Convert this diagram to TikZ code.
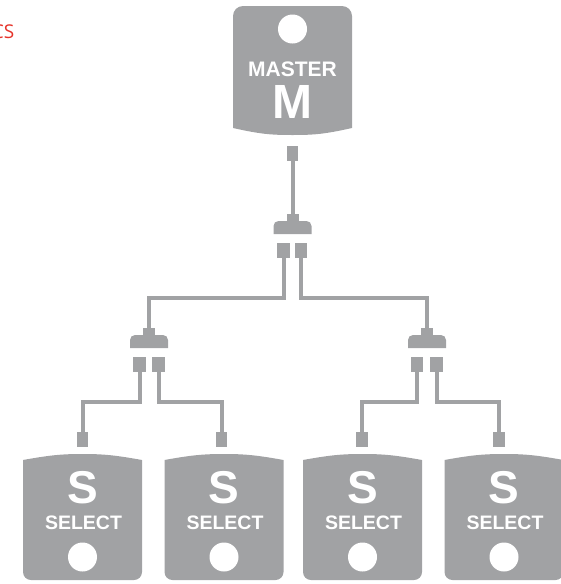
\documentclass[tikz,border=0pt]{standalone}
\usepackage{fontspec}
\setmainfont{Liberation Sans}
\newfontfamily\brandfont{Open Sans}
\definecolor{pedalgrey}{RGB}{161,162,164}
\definecolor{brandred}{RGB}{229,51,42}
\tikzset{
	cable/.style={draw=pedalgrey, line width=4pt},
	plug/.style={fill=pedalgrey, draw=none, inner sep=0pt, minimum width=11.5pt, minimum height=15pt},
	pedaltext/.style={text=white, font=\bfseries, anchor=base, inner sep=0pt}
}
% select pedal, centre x at #1
\def\selectpedal(#1)#2{
	\fill[pedalgrey] ({#1-59.5},460) .. controls ({#1-32},455) and ({#1-20},454) .. (#1,454)
		.. controls ({#1+20},454) and ({#1+32},455) .. ({#1+59.5},460)
		-- ({#1+59.5},572) arc[start angle=0, end angle=90, radius=8]
		-- ({#1-51.5},580) arc[start angle=90, end angle=180, radius=8] -- cycle;
	\node[pedaltext, font=\bfseries\fontsize{46}{46}\selectfont] (#2s) at (#1,503) {S};
	\node[pedaltext, font=\bfseries\fontsize{19.5}{20}\selectfont] (#2label) at ({#1+1},529) {SELECT};
	\fill[white] (#1,557) circle (14.5);
}
% splitter, centre x at #1, top y at #2
\def\splitter(#1,#2){
	\fill[pedalgrey] ({#1-6},#2) rectangle ({#1+6},{#2+7});
	\fill[pedalgrey] ({#1-19},{#2+20}) -- ({#1-19},{#2+12}) arc[start angle=180, end angle=270, radius=5]
		-- ({#1+14},{#2+7}) arc[start angle=270, end angle=360, radius=5] -- ({#1+19},{#2+20}) -- cycle;
}

\begin{document}
\begin{tikzpicture}[x=1pt, y=-1pt]
	\useasboundingbox (0,0) rectangle (561,584);
	%%%%% START %%%%%
	\node[text=brandred, font=\brandfont\fontsize{19}{19}\selectfont, anchor=base east, inner sep=0pt] (brand) at (14.5,38.5) {CS};

	% master pedal
	\fill[pedalgrey] (233,128) -- (233,16) arc[start angle=180, end angle=270, radius=10]
		-- (342,6) arc[start angle=270, end angle=360, radius=10] -- (352,128)
		.. controls (325,134) and (315,135) .. (292.5,135) .. controls (270,135) and (260,134) .. (233,128) -- cycle;
	\fill[white] (292.5,29) circle (14.5);
	\node[pedaltext, font=\bfseries\fontsize{21}{21}\selectfont] (mlabel) at (292.5,76) {MASTER};
	\node[pedaltext, font=\bfseries\fontsize{48}{48}\selectfont] (mm) at (292.5,118) {M};

	% plugs
	\node[plug] (mplug) at (292.5,153) {};
	\node[plug, minimum width=12.5pt] (tplugl) at (283.5,250.5) {};
	\node[plug, minimum width=12.5pt] (tplugr) at (301,250.5) {};
	\node[plug, minimum width=12.5pt] (lplugl) at (139.5,364.5) {};
	\node[plug, minimum width=12.5pt] (lplugr) at (158.5,364.5) {};
	\node[plug, minimum width=12.5pt] (rplugl) at (417,364.5) {};
	\node[plug, minimum width=12.5pt] (rplugr) at (436.5,364.5) {};
	\node[plug] (s1plug) at (82.5,439.5) {};
	\node[plug] (s2plug) at (221.5,439.5) {};
	\node[plug] (s3plug) at (362,439.5) {};
	\node[plug] (s4plug) at (499,439.5) {};

	% splitters
	\splitter(292.5,214)
	\splitter(149,328)
	\splitter(427,328)
	\coordinate (tsplit) at (292.5,215);
	\coordinate (lsplit) at (149,329);
	\coordinate (rsplit) at (427,329);

	% cables
	\draw[cable] (mplug.south) -- (tsplit);
	\draw[cable] (tplugl.south) -- ++(0,39.5) -| (lsplit);
	\draw[cable] (tplugr.south) -- ++(0,39.5) -| (rsplit);
	\draw[cable] (lplugl.south) -- ++(0,30) -| (s1plug.north);
	\draw[cable] (lplugr.south) -- ++(0,30) -| (s2plug.north);
	\draw[cable] (rplugl.south) -- ++(0,30) -| (s3plug.north);
	\draw[cable] (rplugr.south) -- ++(0,30) -| (s4plug.north);

	% select pedals
	\selectpedal(82.5){sa}
	\selectpedal(224){sb}
	\selectpedal(362.5){sc}
	\selectpedal(504){sd}
	%%%%% END %%%%%
\end{tikzpicture}
\end{document}
